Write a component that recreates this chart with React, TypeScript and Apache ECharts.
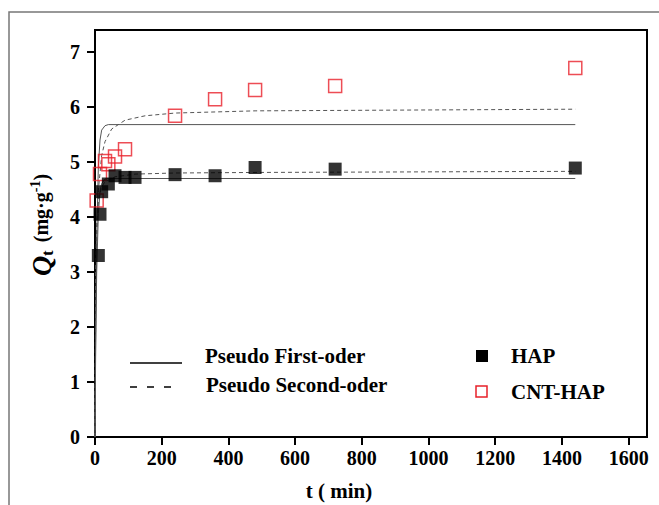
import React, { useEffect, useRef } from "react";
import * as echarts from "echarts";

const hapTime = [10, 15, 20, 40, 60, 90, 120, 240, 360, 480, 720, 1440];
const hapQt = [3.3, 4.05, 4.46, 4.6, 4.75, 4.72, 4.72, 4.77, 4.75, 4.9, 4.87, 4.89];

const cntTime = [5, 15, 30, 40, 60, 90, 240, 360, 480, 720, 1440];
const cntQt = [4.3, 4.78, 5.02, 4.96, 5.1, 5.23, 5.84, 6.14, 6.31, 6.38, 6.71];

// fitted curves
const hapPfoT = [0, 2, 5, 10, 15, 20, 30, 40, 60, 1440];
const hapPfoQ = [0, 1.55, 2.97, 4.06, 4.46, 4.61, 4.69, 4.7, 4.7, 4.7];
const hapPsoT = [0, 2, 5, 10, 20, 30, 60, 120, 240, 480, 1440];
const hapPsoQ = [0, 2.98, 3.86, 4.29, 4.55, 4.64, 4.73, 4.78, 4.8, 4.81, 4.83];
const cntPfoT = [0, 2, 5, 10, 15, 20, 30, 40, 1440];
const cntPfoQ = [0, 1.88, 3.59, 4.91, 5.4, 5.58, 5.66, 5.68, 5.68];
const cntPsoT = [0, 2, 5, 10, 20, 30, 50, 90, 150, 240, 480, 1440];
const cntPsoQ = [0, 2.24, 3.58, 4.48, 5.12, 5.37, 5.6, 5.76, 5.84, 5.89, 5.93, 5.96];

const xTicks = [0, 200, 400, 600, 800, 1000, 1200, 1400, 1600];
const yTicks = [0, 1, 2, 3, 4, 5, 6, 7];

const FONT = "Liberation Serif";

const pair = (a: number[], b: number[]) => a.map((v, i) => [v, b[i]]);

export default function App() {
  const ref = useRef<HTMLDivElement>(null);
  useEffect(() => {
    if (!ref.current) return;
    const chart = echarts.init(ref.current, undefined, { renderer: "svg" });
    const curve = (data: number[][], dashed: boolean) => ({
      type: "line",
      data,
      showSymbol: false,
      symbol: "none",
      z: 2,
      lineStyle: { color: "#555", width: 1, type: dashed ? [4, 3] : "solid" },
    });
    const lbl = { fontFamily: FONT, fontWeight: "bold", fontSize: 20, color: "#000" };
    const txt = (text: string, x: number, y: number, extra: any = {}) => ({
      type: "text",
      x,
      y,
      style: { text, fontFamily: FONT, fontWeight: "bold", fontSize: 21, fill: "#000", verticalAlign: "middle", ...extra },
    });
    chart.setOption({
      animation: false,
      backgroundColor: "#fff",
      textStyle: { fontFamily: FONT },
      grid: { left: 95, top: 30, right: 12, bottom: 68, show: true, borderColor: "#000", borderWidth: 2 },
      xAxis: {
        type: "value",
        min: 0,
        max: 1655,
        splitLine: { show: false },
        axisLine: { lineStyle: { color: "#000", width: 2 } },
        axisTick: { show: true, inside: false, length: 8, lineStyle: { color: "#000", width: 2 }, customValues: xTicks },
        axisLabel: { ...lbl, customValues: xTicks, margin: 11, formatter: (v: number) => String(v) },
      },
      yAxis: {
        type: "value",
        min: 0,
        max: 7.4,
        splitLine: { show: false },
        axisLine: { lineStyle: { color: "#000", width: 2 } },
        axisTick: { show: true, inside: false, length: 8, lineStyle: { color: "#000", width: 2 }, customValues: yTicks },
        axisLabel: { ...lbl, customValues: yTicks, margin: 15, formatter: (v: number) => String(v) },
      },
      graphic: [
        { type: "rect", shape: { x: 9, y: 12, width: 700, height: 600 }, style: { fill: "none", stroke: "#777", lineWidth: 1.5 }, silent: true },
        {
          type: "text",
          x: 41,
          y: 225,
          rotation: Math.PI / 2,
          style: {
            text: "{q|Q}{sub|t}{n| (mg·g}{sup|-1}{n|)}",
            align: "center",
            verticalAlign: "middle",
            fill: "#000",
            rich: {
              q: { fontFamily: FONT, fontStyle: "italic", fontWeight: "bold", fontSize: 28, lineHeight: 28, verticalAlign: "middle" },
              sub: { fontFamily: FONT, fontWeight: "bold", fontSize: 17, lineHeight: 28, verticalAlign: "middle", padding: [12, 3, 0, 0] },
              n: { fontFamily: FONT, fontWeight: "bold", fontSize: 20, lineHeight: 28, verticalAlign: "middle" },
              sup: { fontFamily: FONT, fontWeight: "bold", fontSize: 14, lineHeight: 28, verticalAlign: "middle", padding: [0, 0, 12, 0] },
            },
          },
        },
        txt("t ( min)", 339, 491, { align: "center" }),
        { type: "line", shape: { x1: 130, y1: 363, x2: 182, y2: 363 }, style: { stroke: "#000", lineWidth: 1.5 } },
        { type: "line", shape: { x1: 130, y1: 387, x2: 174, y2: 387 }, style: { stroke: "#000", lineWidth: 1.5, lineDash: [7, 10] } },
        txt("Pseudo First-oder", 205, 356),
        txt("Pseudo Second-oder", 206, 385),
        { type: "rect", shape: { x: 476, y: 350, width: 12, height: 12 }, style: { fill: "#000" } },
        { type: "rect", shape: { x: 476, y: 386, width: 11, height: 11 }, style: { fill: "none", stroke: "#e8202a", lineWidth: 1.5 } },
        txt("HAP", 511, 356),
        txt("CNT-HAP", 511, 392),
      ],
      series: [
        curve(pair(hapPfoT, hapPfoQ), false),
        curve(pair(hapPsoT, hapPsoQ), true),
        curve(pair(cntPfoT, cntPfoQ), false),
        curve(pair(cntPsoT, cntPsoQ), true),
        {
          type: "scatter",
          name: "CNT-HAP",
          data: pair(cntTime, cntQt),
          symbol: "rect",
          symbolSize: 13,
          z: 3,
          itemStyle: { color: "rgba(0,0,0,0)", borderColor: "#e8202a", borderWidth: 1.5 },
        },
        {
          type: "scatter",
          name: "HAP",
          data: pair(hapTime, hapQt),
          symbol: "rect",
          symbolSize: 13,
          z: 4,
          itemStyle: { color: "#000" },
        },
      ],
    });
    return () => chart.dispose();
  }, []);
  return <div ref={ref} style={{ position: "fixed", left: 0, top: 0, width: 659, height: 505 }} />;
}
